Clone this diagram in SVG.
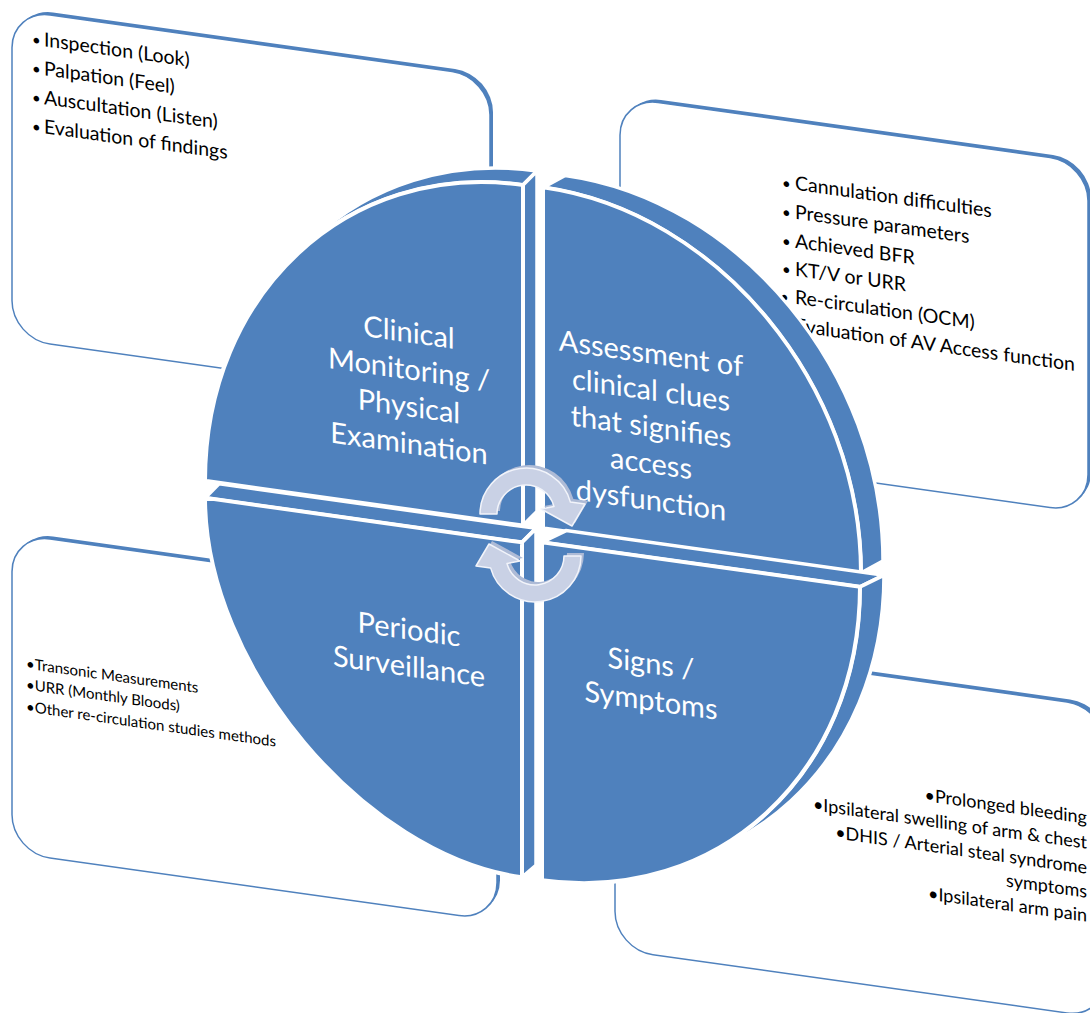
<svg xmlns="http://www.w3.org/2000/svg" width="1090" height="1013" viewBox="0 0 1090 1013">
<style>
.box-back{fill:#4F81BD}
.box{fill:#FFFFFF;stroke:#4F81BD;stroke-width:1.5}
.side{fill:#4F81BD;stroke:#FFFFFF;stroke-width:3.5;stroke-linejoin:round}
.front{fill:#4F81BD;stroke:#FFFFFF;stroke-width:4;stroke-linejoin:round}
.lbl{font-family:Lato,"Open Sans",sans-serif;font-size:29px;fill:#FFFFFF;text-anchor:middle}
.bt{font-family:Lato,"Open Sans",sans-serif;font-size:19.5px;fill:#000000}
.bul{font-size:15px}
.bt-br{font-family:Lato,"Open Sans",sans-serif;font-size:18px;fill:#000000;text-anchor:end}
.bt-bl{font-family:Lato,"Open Sans",sans-serif;font-size:15px;fill:#000000}
.arrow{fill:#C9D1E5;stroke:#F2F4FA;stroke-width:1.5;stroke-linejoin:round}
.arrow-side{fill:#AEBBD6}
</style>
<rect width="1090" height="1013" fill="#FFFFFF"/>
<g transform="skewY(8)">
  <g id="box-tl">
    <rect class="box-back" x="15" y="5" width="478" height="329" rx="38"/>
    <rect class="box" x="12" y="8" width="478" height="329" rx="38"/>
    <text class="bt" y="40"><tspan class="bul" x="32">•</tspan><tspan x="44">Inspection (Look)</tspan></text>
    <text class="bt" y="69"><tspan class="bul" x="32">•</tspan><tspan x="44">Palpation (Feel)</tspan></text>
    <text class="bt" y="98"><tspan class="bul" x="32">•</tspan><tspan x="44">Auscultation (Listen)</tspan></text>
    <text class="bt" y="127"><tspan class="bul" x="32">•</tspan><tspan x="44">Evaluation of findings</tspan></text>
  </g>
  <g id="box-tr">
    <rect class="box-back" x="623" y="7" width="468" height="350" rx="38"/>
    <rect class="box" x="620" y="10" width="468" height="350" rx="38"/>
    <text class="bt" y="78"><tspan class="bul" x="782">•</tspan><tspan x="795">Cannulation difficulties</tspan></text>
    <text class="bt" y="107"><tspan class="bul" x="782">•</tspan><tspan x="795">Pressure parameters</tspan></text>
    <text class="bt" y="136"><tspan class="bul" x="782">•</tspan><tspan x="795">Achieved BFR</tspan></text>
    <text class="bt" y="164"><tspan class="bul" x="782">•</tspan><tspan x="795">KT/V or URR</tspan></text>
    <text class="bt" y="192"><tspan class="bul" x="780">•</tspan><tspan x="795">Re-circulation (OCM)</tspan></text>
    <text class="bt" y="220"><tspan class="bul" x="782">•</tspan><tspan x="795">Evaluation of AV Access function</tspan></text>
  </g>
  <g id="box-bl">
    <rect class="box-back" x="15" y="529" width="485" height="319" rx="38"/>
    <rect class="box" x="12" y="532" width="485" height="319" rx="38"/>
    <text class="bt-bl" x="26" y="665">•Transonic Measurements</text>
    <text class="bt-bl" x="26" y="686">•URR (Monthly Bloods)</text>
    <text class="bt-bl" x="26" y="708">•Other re-circulation studies methods</text>
  </g>
  <g id="box-br">
    <rect class="box-back" x="618" y="549" width="490" height="311" rx="38"/>
    <rect class="box" x="615" y="552" width="490" height="311" rx="38"/>
    <text class="bt-br" x="1087" y="671">•Prolonged bleeding</text>
    <text class="bt-br" x="1087" y="696">•Ipsilateral swelling of arm &amp; chest</text>
    <text class="bt-br" x="1087" y="721">•DHIS / Arterial steal syndrome</text>
    <text class="bt-br" x="1087" y="745">symptoms</text>
    <text class="bt-br" x="1087" y="769">•Ipsilateral arm pain</text>
  </g>

  <g id="q-tl">
    <path class="side" d="M523,111.5 L537,95.5 C361.5,95.5 219,248 219,436 L205,452 C205,264 347.5,111.5 523,111.5 Z"/>
    <path class="side" d="M523,111.5 L537,95.5 L537,436 L523,452 Z"/>
    <path class="front" d="M523,452 L523,111.5 C347.5,111.5 205,264 205,452 Z"/>
    <text class="lbl" x="409" y="285">Clinical</text>
    <text class="lbl" x="409" y="322">Monitoring /</text>
    <text class="lbl" x="409" y="359">Physical</text>
    <text class="lbl" x="409" y="396">Examination</text>
  </g>
  <g id="q-tr">
    <path class="side" d="M543,111 L565,96 C740.5,96 883,248.8 883,437 L861,452 C861,264.3 718.5,111 543,111 Z"/>
    <path class="front" d="M543,452 L543,111 C718.5,111 861,264.3 861,452 Z"/>
    <text class="lbl" x="651" y="272">Assessment of</text>
    <text class="lbl" x="651" y="308.7">clinical clues</text>
    <text class="lbl" x="651" y="345.4">that signifies</text>
    <text class="lbl" x="651" y="382">access</text>
    <text class="lbl" x="651" y="418.8">dysfunction</text>
  </g>
  <g id="q-bl">
    <path class="side" d="M205,469 L219,453 L536,453 L522,469 Z"/>
    <path class="side" d="M522,469 L536,453 L536,790 L522,804 Z"/>
    <path class="front" d="M522,469 L205,469 C205,636.5 363.5,804 522,804 Z"/>
    <text class="lbl" x="409" y="582">Periodic</text>
    <text class="lbl" x="409" y="619">Surveillance</text>
  </g>
  <g id="q-br">
    <path class="side" d="M542,466 L566,451 L884,451 L860,466 Z"/>
    <path class="side" d="M860,466 L884,451 C884,637.6 741.5,789 566,789 L542,804 C717.5,804 860,652.6 860,466 Z"/>
    <path class="front" d="M542,466 L860,466 C860,652.6 717.5,804 542,804 Z"/>
    <text class="lbl" x="651" y="582">Signs /</text>
    <text class="lbl" x="651" y="619">Symptoms</text>
  </g>
</g>
<g id="connectors">
  <g id="arrow-top">
    <path class="arrow-side" transform="translate(3,-3)" d="M480,514 A46,46 0 0 1 570.4,502.1 L585,504 L572,526 L541,509 L554,506.5 A29,29 0 0 0 497,514 Z"/>
    <path class="arrow" d="M480,514 A46,46 0 0 1 570.4,502.1 L585,504 L572,526 L541,509 L554,506.5 A29,29 0 0 0 497,514 Z"/>
  </g>
  <g id="arrow-bottom">
    <path class="arrow-side" transform="translate(3,-3)" d="M581,556 A46,46 0 0 1 490.6,567.9 L476,566 L489,544 L520,561 L507,563.5 A29,29 0 0 0 564,556 Z"/>
    <path class="arrow" d="M581,556 A46,46 0 0 1 490.6,567.9 L476,566 L489,544 L520,561 L507,563.5 A29,29 0 0 0 564,556 Z"/>
  </g>
</g>
</svg>
